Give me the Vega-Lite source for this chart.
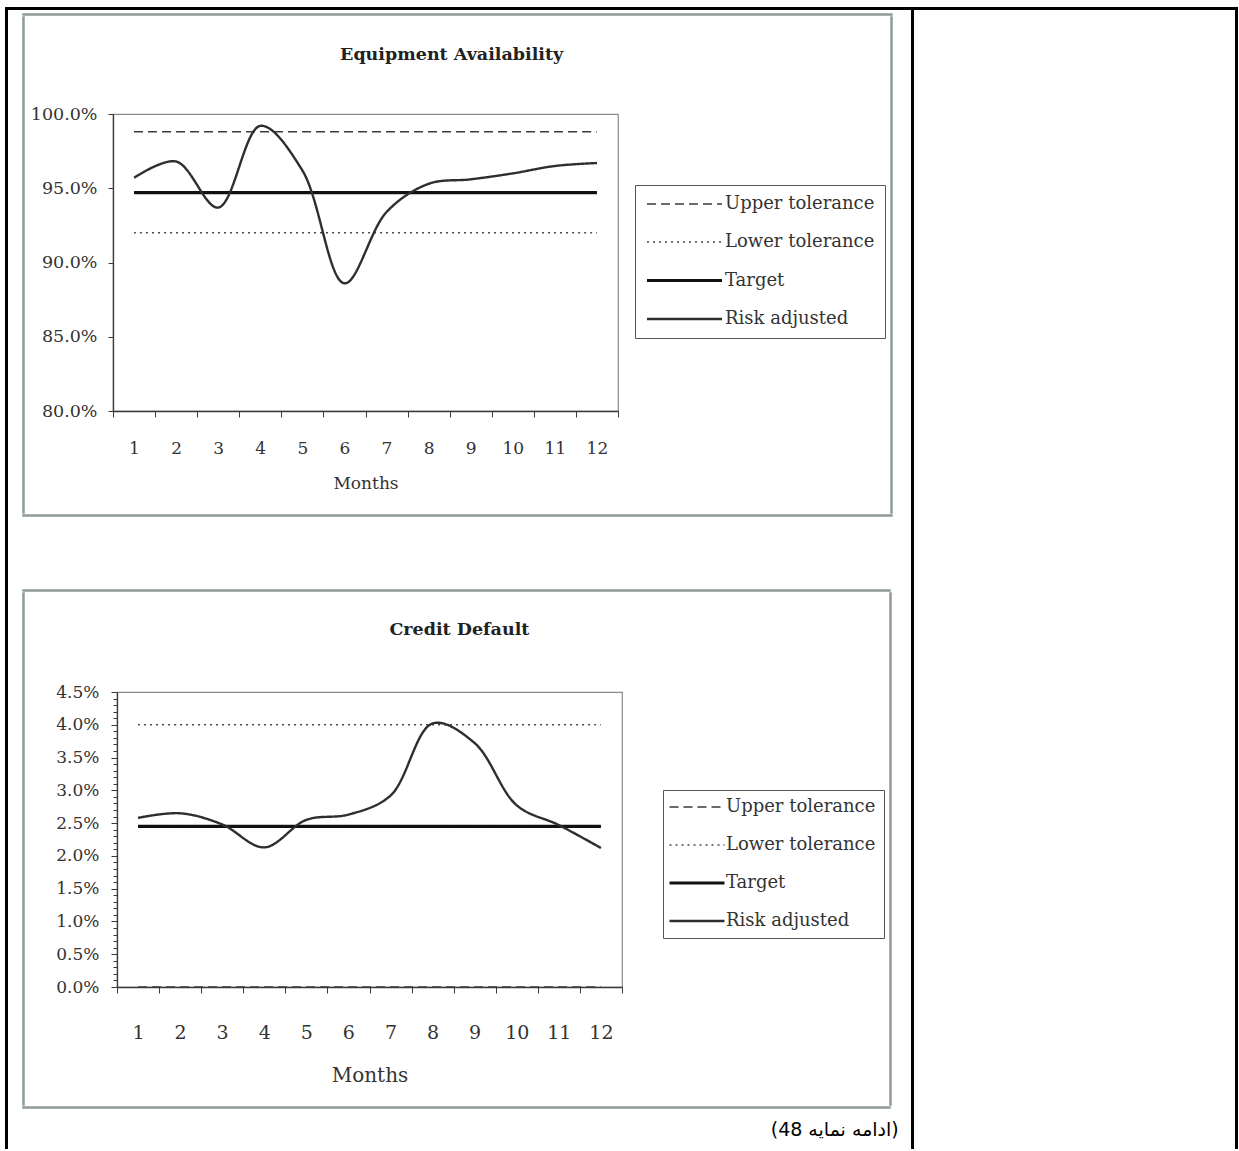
{
  "$schema": "https://vega.github.io/schema/vega-lite/v6.json",
  "background": "white",
  "padding": {"left": 5, "top": 7, "right": 0, "bottom": 0},
  "spacing": 0,
  "config": {
    "view": {"stroke": "#8c8c8c", "strokeWidth": 1.2},
    "font": "DejaVu Serif",
    "axis": {"labelFont": "DejaVu Serif", "labelColor": "#333", "titleFont": "DejaVu Serif", "titleColor": "#333", "titleFontWeight": "normal", "domainColor": "#3a3a3a", "tickColor": "#3a3a3a", "domainWidth": 1.3, "grid": false},
    "legend": {"title": null, "labelFont": "DejaVu Serif", "labelFontSize": 18, "labelColor": "#333", "strokeColor": "#555", "fillColor": "white", "rowPadding": 20, "symbolType": "M-5,0H5"}
  },
  "datasets": {
    "equip": [
      {"month": 1, "series": "Upper tolerance", "value": 98.8},
      {"month": 2, "series": "Upper tolerance", "value": 98.8},
      {"month": 3, "series": "Upper tolerance", "value": 98.8},
      {"month": 4, "series": "Upper tolerance", "value": 98.8},
      {"month": 5, "series": "Upper tolerance", "value": 98.8},
      {"month": 6, "series": "Upper tolerance", "value": 98.8},
      {"month": 7, "series": "Upper tolerance", "value": 98.8},
      {"month": 8, "series": "Upper tolerance", "value": 98.8},
      {"month": 9, "series": "Upper tolerance", "value": 98.8},
      {"month": 10, "series": "Upper tolerance", "value": 98.8},
      {"month": 11, "series": "Upper tolerance", "value": 98.8},
      {"month": 12, "series": "Upper tolerance", "value": 98.8},
      {"month": 1, "series": "Lower tolerance", "value": 92.0},
      {"month": 2, "series": "Lower tolerance", "value": 92.0},
      {"month": 3, "series": "Lower tolerance", "value": 92.0},
      {"month": 4, "series": "Lower tolerance", "value": 92.0},
      {"month": 5, "series": "Lower tolerance", "value": 92.0},
      {"month": 6, "series": "Lower tolerance", "value": 92.0},
      {"month": 7, "series": "Lower tolerance", "value": 92.0},
      {"month": 8, "series": "Lower tolerance", "value": 92.0},
      {"month": 9, "series": "Lower tolerance", "value": 92.0},
      {"month": 10, "series": "Lower tolerance", "value": 92.0},
      {"month": 11, "series": "Lower tolerance", "value": 92.0},
      {"month": 12, "series": "Lower tolerance", "value": 92.0},
      {"month": 1, "series": "Target", "value": 94.7},
      {"month": 2, "series": "Target", "value": 94.7},
      {"month": 3, "series": "Target", "value": 94.7},
      {"month": 4, "series": "Target", "value": 94.7},
      {"month": 5, "series": "Target", "value": 94.7},
      {"month": 6, "series": "Target", "value": 94.7},
      {"month": 7, "series": "Target", "value": 94.7},
      {"month": 8, "series": "Target", "value": 94.7},
      {"month": 9, "series": "Target", "value": 94.7},
      {"month": 10, "series": "Target", "value": 94.7},
      {"month": 11, "series": "Target", "value": 94.7},
      {"month": 12, "series": "Target", "value": 94.7},
      {"month": 1, "series": "Risk adjusted", "value": 95.7},
      {"month": 2, "series": "Risk adjusted", "value": 96.8},
      {"month": 3, "series": "Risk adjusted", "value": 93.7},
      {"month": 4, "series": "Risk adjusted", "value": 99.2},
      {"month": 5, "series": "Risk adjusted", "value": 96.2},
      {"month": 6, "series": "Risk adjusted", "value": 88.6},
      {"month": 7, "series": "Risk adjusted", "value": 93.4},
      {"month": 8, "series": "Risk adjusted", "value": 95.3},
      {"month": 9, "series": "Risk adjusted", "value": 95.6},
      {"month": 10, "series": "Risk adjusted", "value": 96.0},
      {"month": 11, "series": "Risk adjusted", "value": 96.5},
      {"month": 12, "series": "Risk adjusted", "value": 96.7}
    ],
    "credit": [
      {"month": 1, "series": "Upper tolerance", "value": 0.0},
      {"month": 2, "series": "Upper tolerance", "value": 0.0},
      {"month": 3, "series": "Upper tolerance", "value": 0.0},
      {"month": 4, "series": "Upper tolerance", "value": 0.0},
      {"month": 5, "series": "Upper tolerance", "value": 0.0},
      {"month": 6, "series": "Upper tolerance", "value": 0.0},
      {"month": 7, "series": "Upper tolerance", "value": 0.0},
      {"month": 8, "series": "Upper tolerance", "value": 0.0},
      {"month": 9, "series": "Upper tolerance", "value": 0.0},
      {"month": 10, "series": "Upper tolerance", "value": 0.0},
      {"month": 11, "series": "Upper tolerance", "value": 0.0},
      {"month": 12, "series": "Upper tolerance", "value": 0.0},
      {"month": 1, "series": "Lower tolerance", "value": 4.0},
      {"month": 2, "series": "Lower tolerance", "value": 4.0},
      {"month": 3, "series": "Lower tolerance", "value": 4.0},
      {"month": 4, "series": "Lower tolerance", "value": 4.0},
      {"month": 5, "series": "Lower tolerance", "value": 4.0},
      {"month": 6, "series": "Lower tolerance", "value": 4.0},
      {"month": 7, "series": "Lower tolerance", "value": 4.0},
      {"month": 8, "series": "Lower tolerance", "value": 4.0},
      {"month": 9, "series": "Lower tolerance", "value": 4.0},
      {"month": 10, "series": "Lower tolerance", "value": 4.0},
      {"month": 11, "series": "Lower tolerance", "value": 4.0},
      {"month": 12, "series": "Lower tolerance", "value": 4.0},
      {"month": 1, "series": "Target", "value": 2.45},
      {"month": 2, "series": "Target", "value": 2.45},
      {"month": 3, "series": "Target", "value": 2.45},
      {"month": 4, "series": "Target", "value": 2.45},
      {"month": 5, "series": "Target", "value": 2.45},
      {"month": 6, "series": "Target", "value": 2.45},
      {"month": 7, "series": "Target", "value": 2.45},
      {"month": 8, "series": "Target", "value": 2.45},
      {"month": 9, "series": "Target", "value": 2.45},
      {"month": 10, "series": "Target", "value": 2.45},
      {"month": 11, "series": "Target", "value": 2.45},
      {"month": 12, "series": "Target", "value": 2.45},
      {"month": 1, "series": "Risk adjusted", "value": 2.58},
      {"month": 2, "series": "Risk adjusted", "value": 2.65},
      {"month": 3, "series": "Risk adjusted", "value": 2.48},
      {"month": 4, "series": "Risk adjusted", "value": 2.13},
      {"month": 5, "series": "Risk adjusted", "value": 2.55},
      {"month": 6, "series": "Risk adjusted", "value": 2.63},
      {"month": 7, "series": "Risk adjusted", "value": 2.92},
      {"month": 8, "series": "Risk adjusted", "value": 4.02},
      {"month": 9, "series": "Risk adjusted", "value": 3.72},
      {"month": 10, "series": "Risk adjusted", "value": 2.77},
      {"month": 11, "series": "Risk adjusted", "value": 2.47},
      {"month": 12, "series": "Risk adjusted", "value": 2.12}
    ]
  },
  "hconcat": [
    {"width": 1, "height": 1140, "data": {"values": []}, "mark": "point", "view": {"stroke": "#000", "strokeWidth": 2}},
    {
      "spacing": 3,
      "vconcat": [
        {"width": 901, "height": 1, "data": {"values": []}, "mark": "point", "view": {"stroke": "#000", "strokeWidth": 2}},
        {
          "spacing": 0,
          "hconcat": [
            {"width": 13, "height": 1, "data": {"values": []}, "mark": "point", "view": {"stroke": null}},
            {
              "spacing": 72,
              "title": {"text": "(ادامه نمایه 48)", "orient": "bottom", "anchor": "end", "frame": "bounds", "font": "DejaVu Sans", "fontSize": 19, "fontWeight": "normal", "color": "#000", "offset": 12, "dx": 6},
              "resolve": {"scale": {"color": "independent", "strokeDash": "independent", "strokeWidth": "independent"}, "legend": {"color": "independent", "strokeDash": "independent", "strokeWidth": "independent"}},
              "vconcat": [
                {
                  "spacing": 0,
                  "vconcat": [
                    {"width": 869, "height": 1, "data": {"values": []}, "mark": "point", "view": {"stroke": "#8f9a96", "strokeWidth": 1.5}},
                    {
                      "spacing": 0,
                      "hconcat": [
                        {"width": 1, "height": 496, "data": {"values": []}, "mark": "point", "view": {"stroke": "#8f9a96", "strokeWidth": 1.5}},
                        {"width": 4, "height": 1, "data": {"values": []}, "mark": "point", "view": {"stroke": null}},
                        {
                          "spacing": 26,
                          "vconcat": [
                            {"width": 1, "height": 1, "data": {"values": []}, "mark": "point", "view": {"stroke": null}},
                            {
                              "width": 505,
                              "height": 297,
                              "title": {"text": "Equipment Availability", "font": "DejaVu Serif", "fontSize": 17.5, "fontWeight": "bold", "color": "#222", "anchor": "middle", "frame": "bounds", "offset": 42, "dx": 117},
                              "data": {"name": "equip"},
                              "mark": {"type": "line", "interpolate": "catmull-rom"},
                              "encoding": {
                                "x": {"field": "month", "type": "quantitative",
                                  "scale": {"domain": [0.5, 12.5], "nice": false, "zero": false},
                                  "axis": {"values": [0.5, 1.5, 2.5, 3.5, 4.5, 5.5, 6.5, 7.5, 8.5, 9.5, 10.5, 11.5, 12.5],
                                    "labelExpr": "datum.value < 12 ? format(datum.value + 0.5, 'd') : ''",
                                    "labelOffset": 21, "labelFlush": false, "labelOverlap": false,
                                    "labelFontSize": 17, "tickSize": 6, "labelPadding": 23,
                                    "title": "Months", "titleFontSize": 17, "titlePadding": 19}},
                                "y": {"field": "value", "type": "quantitative",
                                  "scale": {"domain": [80, 100], "nice": false, "zero": false},
                                  "axis": {"values": [80, 85, 90, 95, 100],
                                    "labelExpr": "format(datum.value, '.1f') + '%'",
                                    "labelFontSize": 17.5, "tickSize": 5, "labelPadding": 11, "title": null}},
                                "color": {"field": "series", "type": "nominal",
                                  "scale": {"domain": ["Upper tolerance", "Lower tolerance", "Target", "Risk adjusted"], "range": ["#3a3a3a", "#4a4a4a", "#111111", "#2e2e2e"]},
                                  "legend": {"orient": "none", "legendX": 612, "legendY": 171, "padding": 10, "symbolSize": 225, "symbolOffset": 30, "labelOffset": 31}},
                                "strokeDash": {"field": "series", "type": "nominal",
                                  "scale": {"domain": ["Upper tolerance", "Lower tolerance", "Target", "Risk adjusted"], "range": [[9, 5], [2, 4], [1, 0], [1, 0]]}},
                                "strokeWidth": {"field": "series", "type": "ordinal",
                                  "scale": {"type": "ordinal", "domain": ["Upper tolerance", "Lower tolerance", "Target", "Risk adjusted"], "range": [1.6, 1.4, 3.2, 2.4]}}
                              }
                            }
                          ]
                        },
                        {"width": 250, "height": 1, "data": {"values": []}, "mark": "point", "view": {"stroke": null}},
                        {"width": 1, "height": 496, "data": {"values": []}, "mark": "point", "view": {"stroke": "#8f9a96", "strokeWidth": 1.5}}
                      ]
                    },
                    {"width": 869, "height": 1, "data": {"values": []}, "mark": "point", "view": {"stroke": "#8f9a96", "strokeWidth": 1.5}}
                  ]
                },
                {
                  "spacing": 0,
                  "vconcat": [
                    {"width": 867, "height": 1, "data": {"values": []}, "mark": "point", "view": {"stroke": "#8f9a96", "strokeWidth": 1.5}},
                    {
                      "spacing": 0,
                      "hconcat": [
                        {"width": 1, "height": 512, "data": {"values": []}, "mark": "point", "view": {"stroke": "#8f9a96", "strokeWidth": 1.5}},
                        {"width": 30, "height": 1, "data": {"values": []}, "mark": "point", "view": {"stroke": null}},
                        {
                          "spacing": 25,
                          "vconcat": [
                            {"width": 1, "height": 1, "data": {"values": []}, "mark": "point", "view": {"stroke": null}},
                            {
                              "width": 505,
                              "height": 295,
                              "title": {"text": "Credit Default", "font": "DejaVu Serif", "fontSize": 17.5, "fontWeight": "bold", "color": "#222", "anchor": "middle", "frame": "bounds", "offset": 45, "dx": 110},
                              "data": {"name": "credit"},
                              "mark": {"type": "line", "interpolate": "catmull-rom"},
                              "encoding": {
                                "x": {"field": "month", "type": "quantitative",
                                  "scale": {"domain": [0.5, 12.5], "nice": false, "zero": false},
                                  "axis": {"values": [0.5, 1.5, 2.5, 3.5, 4.5, 5.5, 6.5, 7.5, 8.5, 9.5, 10.5, 11.5, 12.5],
                                    "labelExpr": "datum.value < 12 ? format(datum.value + 0.5, 'd') : ''",
                                    "labelOffset": 21, "labelFlush": false, "labelOverlap": false,
                                    "labelFontSize": 19, "tickSize": 6, "labelPadding": 30,
                                    "title": "Months", "titleFontSize": 20, "titlePadding": 23}},
                                "y": {"field": "value", "type": "quantitative",
                                  "scale": {"domain": [0, 4.5], "nice": false, "zero": false},
                                  "axis": {"values": [0, 0.1, 0.2, 0.3, 0.4, 0.5, 0.6, 0.7, 0.8, 0.9, 1, 1.1, 1.2, 1.3, 1.4, 1.5, 1.6, 1.7, 1.8, 1.9, 2, 2.1, 2.2, 2.3, 2.4, 2.5, 2.6, 2.7, 2.8, 2.9, 3, 3.1, 3.2, 3.3, 3.4, 3.5, 3.6, 3.7, 3.8, 3.9, 4, 4.1, 4.2, 4.3, 4.4, 4.5],
                                    "labelExpr": "abs(datum.value * 2 - round(datum.value * 2)) < 0.001 ? format(datum.value, '.1f') + '%' : ''",
                                    "labelOverlap": false,
                                    "tickSize": {"condition": {"test": "abs(datum.value * 2 - round(datum.value * 2)) < 0.001", "value": 6}, "value": 4},
                                    "labelFontSize": 17, "labelPadding": 12, "title": null}},
                                "color": {"field": "series", "type": "nominal",
                                  "scale": {"domain": ["Upper tolerance", "Lower tolerance", "Target", "Risk adjusted"], "range": ["#3a3a3a", "#4a4a4a", "#111111", "#2e2e2e"]},
                                  "legend": {"orient": "none", "legendX": 640, "legendY": 200, "padding": 8, "symbolSize": 121, "symbolOffset": 17, "labelOffset": 20}},
                                "strokeDash": {"field": "series", "type": "nominal",
                                  "scale": {"domain": ["Upper tolerance", "Lower tolerance", "Target", "Risk adjusted"], "range": [[9, 5], [2, 4], [1, 0], [1, 0]]}},
                                "strokeWidth": {"field": "series", "type": "ordinal",
                                  "scale": {"type": "ordinal", "domain": ["Upper tolerance", "Lower tolerance", "Target", "Risk adjusted"], "range": [1.6, 1.4, 3.2, 2.4]}}
                              }
                            }
                          ]
                        },
                        {"width": 245, "height": 1, "data": {"values": []}, "mark": "point", "view": {"stroke": null}},
                        {"width": 1, "height": 512, "data": {"values": []}, "mark": "point", "view": {"stroke": "#8f9a96", "strokeWidth": 1.5}}
                      ]
                    },
                    {"width": 867, "height": 1, "data": {"values": []}, "mark": "point", "view": {"stroke": "#8f9a96", "strokeWidth": 1.5}}
                  ]
                }
              ]
            }
          ]
        }
      ]
    },
    {"width": 1, "height": 1140, "data": {"values": []}, "mark": "point", "view": {"stroke": "#000", "strokeWidth": 2}},
    {"width": 319, "height": 1, "data": {"values": []}, "mark": "point", "view": {"stroke": "#000", "strokeWidth": 2}},
    {"width": 1, "height": 1140, "data": {"values": []}, "mark": "point", "view": {"stroke": "#000", "strokeWidth": 2}}
  ]
}
